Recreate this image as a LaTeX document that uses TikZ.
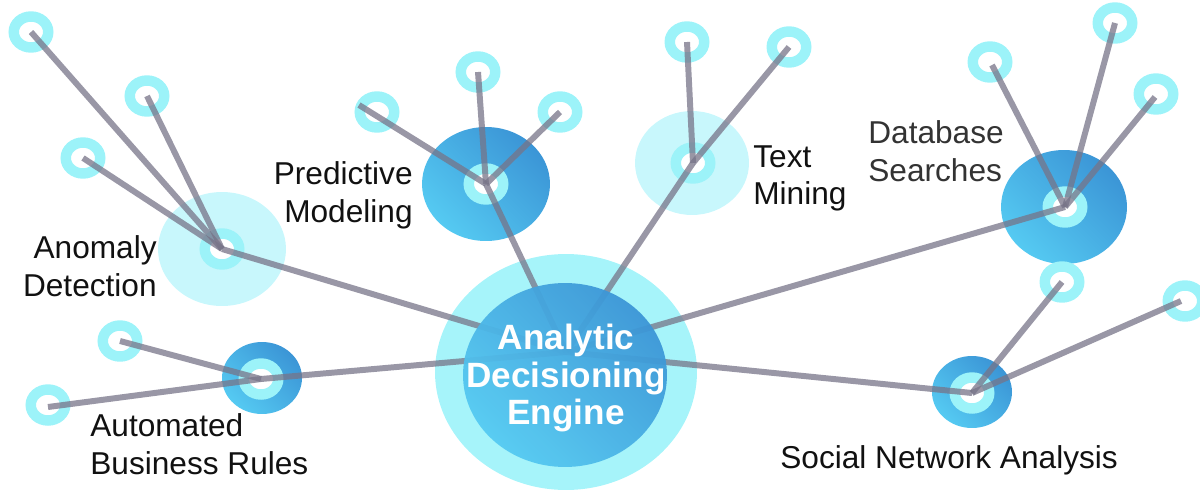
\documentclass[tikz,border=0pt]{standalone}
\usepackage{fontspec}
\setmainfont{Liberation Sans}
\usetikzlibrary{shapes.geometric}
\definecolor{ringc}{HTML}{9CF3F9}
\definecolor{lightbg}{HTML}{C8F7FC}
\definecolor{outerc}{HTML}{A6F4FA}
\definecolor{darkb}{HTML}{3B95D6}
\definecolor{lightb}{HTML}{55CAF2}
\definecolor{linec}{HTML}{777488}
\definecolor{labc}{HTML}{111111}
\definecolor{dbc}{HTML}{333333}
\begin{document}
\begin{tikzpicture}[x=0.02cm,y=-0.02cm,
  ring/.style={ellipse, draw=ringc, line width=5.95pt, fill=white,
    minimum width=0.69cm, minimum height=0.62cm, inner sep=0pt},
  lighthub/.style={ellipse, fill=lightbg, inner sep=0pt},
  darkhub/.style={ellipse, inner sep=0pt, bottom color=lightb, top color=darkb, shading angle=-45},
  spoke/.style={draw=linec, line width=3.4pt, draw opacity=0.75},
  lab/.style={font=\fontsize{18pt}{21.5pt}\selectfont, text=labc, inner sep=0pt},
]
\useasboundingbox (0,0) rectangle (1200,490);

% background discs
\node[ellipse, fill=outerc, inner sep=0pt, minimum width=5.24cm, minimum height=4.72cm] (engbg) at (566,372) {};
\node[lighthub, minimum width=2.56cm, minimum height=2.28cm] (adbg) at (222,249) {};
\node[darkhub, minimum width=2.56cm, minimum height=2.28cm] (pmbg) at (486,184) {};
\node[lighthub, minimum width=2.28cm, minimum height=2.08cm] (tmbg) at (692,163) {};
\node[darkhub, minimum width=2.52cm, minimum height=2.28cm] (dsbg) at (1064,207) {};
\node[darkhub, minimum width=1.6cm, minimum height=1.44cm] (abbg) at (262,378) {};
\node[darkhub, minimum width=1.6cm, minimum height=1.44cm] (snbg) at (972,392) {};

% hub rings
\node[ring] (ad) at (222,249) {};
\node[ring] (pm) at (486,184) {};
\node[ring] (tm) at (693,163) {};
\node[ring] (ds) at (1065,207) {};
\node[ring] (ab) at (261,379) {};
\node[ring] (sn) at (972,393) {};

% leaf rings
\node[ring] (adl1) at (31,32) {};
\node[ring] (adl2) at (147,96) {};
\node[ring] (adl3) at (83,158) {};
\node[ring] (pml1) at (478,72) {};
\node[ring] (pml2) at (560,112) {};
\node[ring] (pml3) at (377,112) {};
\node[ring] (tml1) at (687,42) {};
\node[ring] (tml2) at (789,47) {};
\node[ring] (dsl1) at (990,62) {};
\node[ring] (dsl2) at (1115,23) {};
\node[ring] (dsl3) at (1156,94) {};
\node[ring] (abl1) at (120,341) {};
\node[ring] (abl2) at (48,405) {};
\node[ring] (snl1) at (1062,282) {};
\node[ring] (snl2) at (1185,301) {};

\coordinate (core) at (566,352);

% connectors
\draw[spoke] (ad.center) -- (adl1.center);
\draw[spoke] (ad.center) -- (adl2.center);
\draw[spoke] (ad.center) -- (adl3.center);
\draw[spoke] (pm.center) -- (pml1.center);
\draw[spoke] (pm.center) -- (pml2.center);
\draw[spoke] (pm.center) -- ([shift={(-18,-7)}]pml3.center);
\draw[spoke] (tm.center) -- (tml1.center);
\draw[spoke] (tm.center) -- (tml2.center);
\draw[spoke] (ds.center) -- ([shift={(2,3)}]dsl1.center);
\draw[spoke] (ds.center) -- (dsl2.center);
\draw[spoke] (ds.center) -- ([shift={(-1,3)}]dsl3.center);
\draw[spoke] (ab.center) -- (abl1.center);
\draw[spoke] (ab.center) -- ([shift={(0,2)}]abl2.center);
\draw[spoke] (sn.center) -- (snl1.center);
\draw[spoke] (sn.center) -- ([shift={(-4,0)}]snl2.center);
\draw[spoke] (core) -- (ad.center);
\draw[spoke] (core) -- (pm.center);
\draw[spoke] (core) -- (tm.center);
\draw[spoke] (core) -- (ds.center);
\draw[spoke] (core) -- (ab.center);
\draw[spoke] (core) -- (sn.center);

% central engine
\node[ellipse, inner sep=0pt, minimum width=4.08cm, minimum height=3.68cm,
  bottom color=lightb, top color=darkb, shading angle=-45, fill opacity=0.94] (eng) at (565,375) {};
\node[text=white, align=center, inner sep=0pt,
  font=\bfseries\fontsize{20pt}{21.5pt}\selectfont] (engtxt) at (566,378) {Analytic\\Decisioning\\Engine};

% labels
\node[lab, align=right, anchor=north east] (adt) at (157,235) {Anomaly\\Detection};
\node[lab, align=right, anchor=north east] (pmt) at (413,161) {Predictive\\Modeling};
\node[lab, align=left, anchor=north west] (tmt) at (753,145) {Text\\Mining};
\node[lab, align=left, anchor=north west, text=dbc] (dst) at (868,120) {Database\\Searches};
\node[lab, align=left, anchor=north west] (abt) at (90,413) {Automated\\Business Rules};
\node[lab, anchor=north west] (snt) at (780,445) {Social Network Analysis};
\end{tikzpicture}
\end{document}
